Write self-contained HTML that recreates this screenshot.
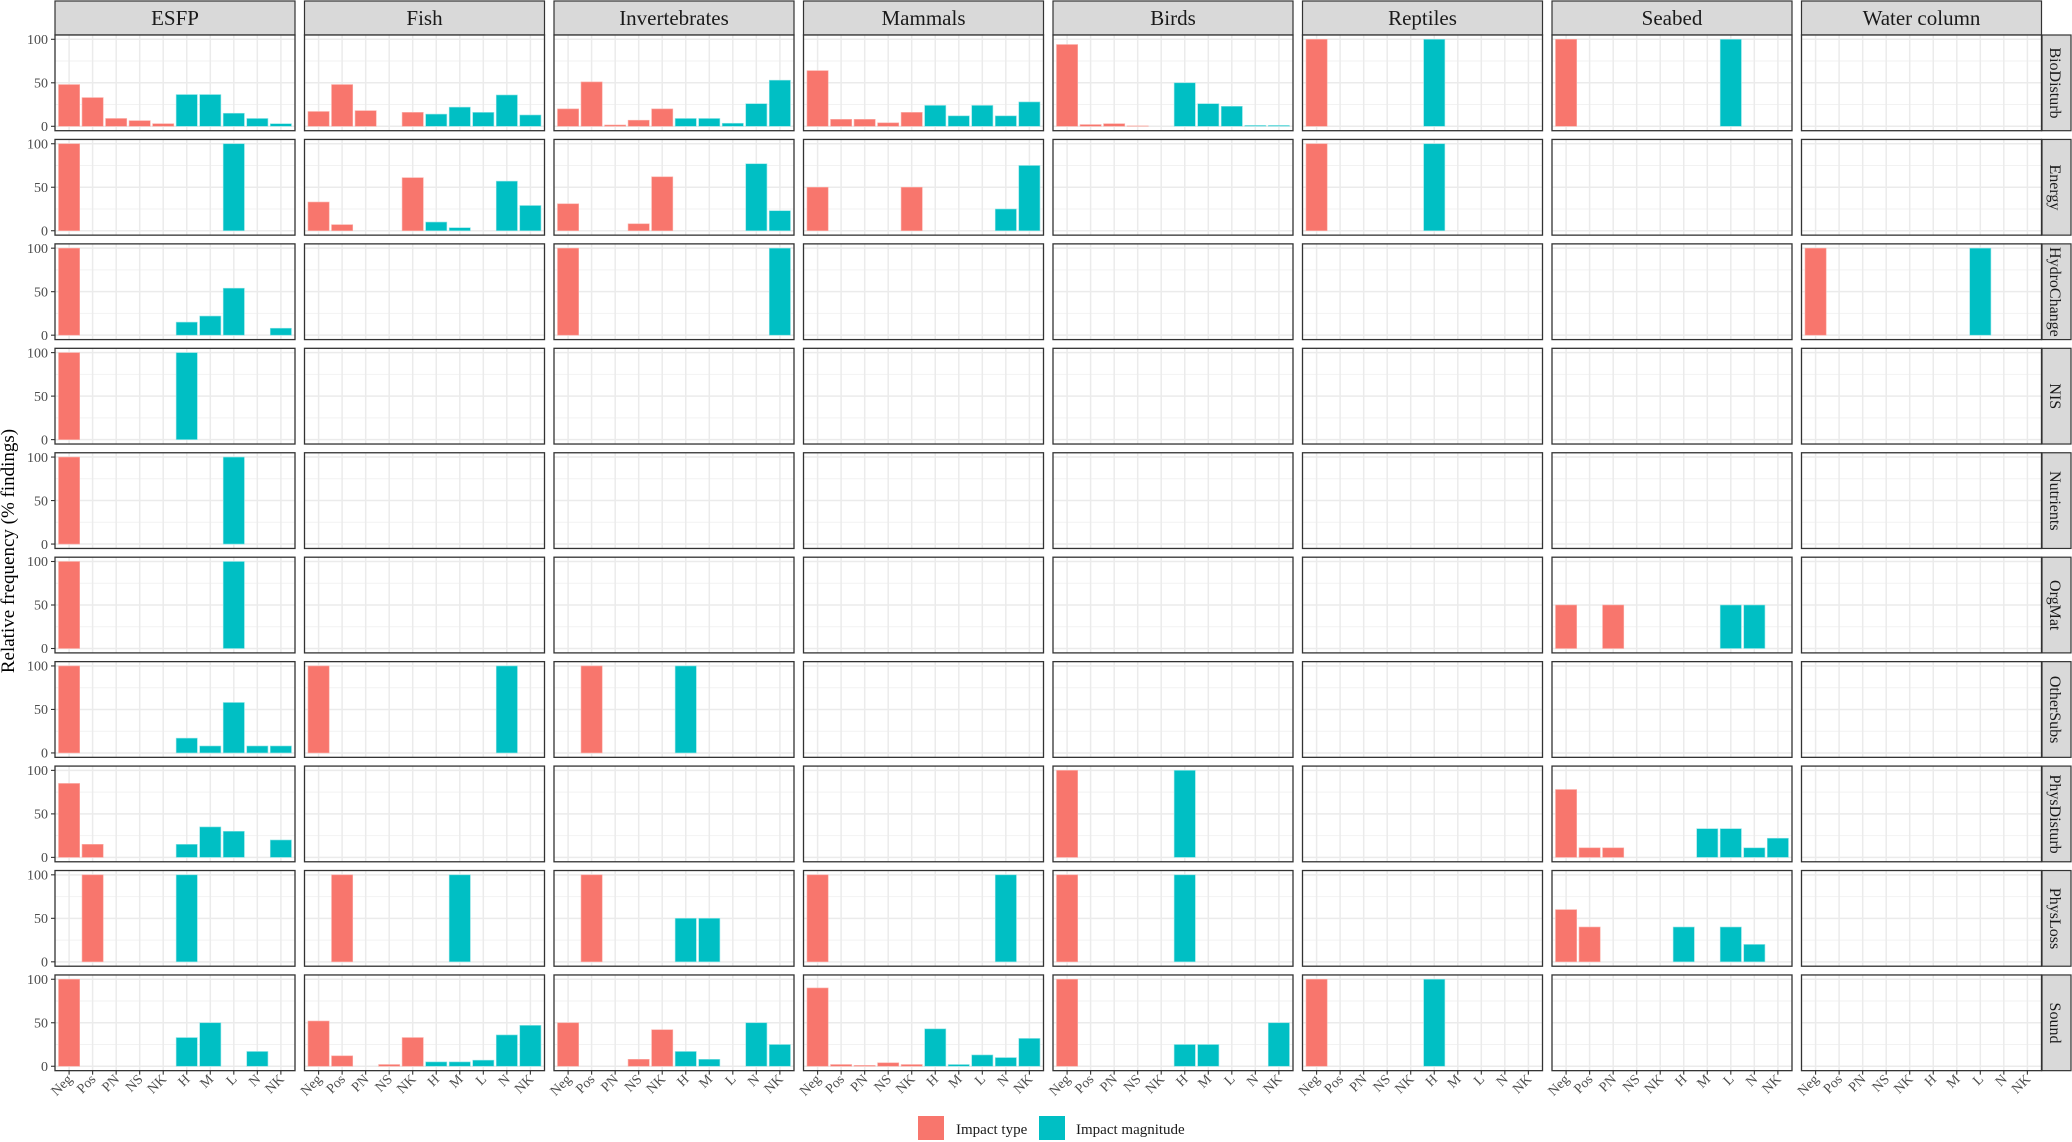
<!DOCTYPE html>
<html><head><meta charset="utf-8"><style>
html,body{margin:0;padding:0;background:#fff;}
svg{display:block;font-family:"Liberation Serif",serif;}
</style></head><body>
<svg id="s" width="2072" height="1142" xmlns="http://www.w3.org/2000/svg">
<g id="shapes"></g>
<g id="txt" fill="#222">
<text x="14" y="551" font-size="19" text-anchor="middle" transform="rotate(-90 14 551)" fill="#000">Relative frequency (% findings)</text>
<g font-size="21" text-anchor="middle" fill="#1a1a1a">
<text x="175" y="25">ESFP</text>
<text x="424.5" y="25">Fish</text>
<text x="674" y="25">Invertebrates</text>
<text x="923.5" y="25">Mammals</text>
<text x="1173" y="25">Birds</text>
<text x="1422.5" y="25">Reptiles</text>
<text x="1672" y="25">Seabed</text>
<text x="1921.5" y="25">Water column</text>
</g>
<g font-size="16" text-anchor="middle" fill="#1a1a1a">
<text transform="translate(2050 83) rotate(90)">BioDisturb</text>
<text transform="translate(2050 187.4) rotate(90)">Energy</text>
<text transform="translate(2050 291.9) rotate(90)">HydroChange</text>
<text transform="translate(2050 396.3) rotate(90)">NIS</text>
<text transform="translate(2050 500.8) rotate(90)">Nutrients</text>
<text transform="translate(2050 605.2) rotate(90)">OrgMat</text>
<text transform="translate(2050 709.6) rotate(90)">OtherSubs</text>
<text transform="translate(2050 814.1) rotate(90)">PhysDisturb</text>
<text transform="translate(2050 918.5) rotate(90)">PhysLoss</text>
<text transform="translate(2050 1023) rotate(90)">Sound</text>
</g>
<g font-size="14" text-anchor="end" fill="#4d4d4d">
<g transform="translate(0 0)"><text x="48" y="44">100</text><text x="48" y="87.5">50</text><text x="48" y="131">0</text></g>
<g transform="translate(0 104.44)"><text x="48" y="44">100</text><text x="48" y="87.5">50</text><text x="48" y="131">0</text></g>
<g transform="translate(0 208.89)"><text x="48" y="44">100</text><text x="48" y="87.5">50</text><text x="48" y="131">0</text></g>
<g transform="translate(0 313.33)"><text x="48" y="44">100</text><text x="48" y="87.5">50</text><text x="48" y="131">0</text></g>
<g transform="translate(0 417.78)"><text x="48" y="44">100</text><text x="48" y="87.5">50</text><text x="48" y="131">0</text></g>
<g transform="translate(0 522.22)"><text x="48" y="44">100</text><text x="48" y="87.5">50</text><text x="48" y="131">0</text></g>
<g transform="translate(0 626.67)"><text x="48" y="44">100</text><text x="48" y="87.5">50</text><text x="48" y="131">0</text></g>
<g transform="translate(0 731.11)"><text x="48" y="44">100</text><text x="48" y="87.5">50</text><text x="48" y="131">0</text></g>
<g transform="translate(0 835.56)"><text x="48" y="44">100</text><text x="48" y="87.5">50</text><text x="48" y="131">0</text></g>
<g transform="translate(0 940)"><text x="48" y="44">100</text><text x="48" y="87.5">50</text><text x="48" y="131">0</text></g>
</g>
<g id="xl" font-size="14" text-anchor="end" fill="#4d4d4d"></g>
<g font-size="15" fill="#1a1a1a">
<rect x="918" y="1116" width="26" height="24" fill="#F8766D"/>
<text x="956" y="1134">Impact type</text>
<rect x="1039" y="1116" width="26" height="24" fill="#00BFC4"/>
<text x="1076" y="1134">Impact magnitude</text>
</g>
</g>
<g font-size="14" text-anchor="end" fill="#4d4d4d">
<g transform="translate(55 0)"><text transform="translate(18 1080) rotate(-45)">Neg</text><text transform="translate(41.5 1080) rotate(-45)">Pos</text><text transform="translate(65 1080) rotate(-45)">PN</text><text transform="translate(88.6 1080) rotate(-45)">NS</text><text transform="translate(112.1 1080) rotate(-45)">NK</text><text transform="translate(135.7 1080) rotate(-45)">H</text><text transform="translate(159.2 1080) rotate(-45)">M</text><text transform="translate(182.7 1080) rotate(-45)">L</text><text transform="translate(206.3 1080) rotate(-45)">N</text><text transform="translate(229.8 1080) rotate(-45)">NK</text></g>
<g transform="translate(304.5 0)"><text transform="translate(18 1080) rotate(-45)">Neg</text><text transform="translate(41.5 1080) rotate(-45)">Pos</text><text transform="translate(65 1080) rotate(-45)">PN</text><text transform="translate(88.6 1080) rotate(-45)">NS</text><text transform="translate(112.1 1080) rotate(-45)">NK</text><text transform="translate(135.7 1080) rotate(-45)">H</text><text transform="translate(159.2 1080) rotate(-45)">M</text><text transform="translate(182.7 1080) rotate(-45)">L</text><text transform="translate(206.3 1080) rotate(-45)">N</text><text transform="translate(229.8 1080) rotate(-45)">NK</text></g>
<g transform="translate(554 0)"><text transform="translate(18 1080) rotate(-45)">Neg</text><text transform="translate(41.5 1080) rotate(-45)">Pos</text><text transform="translate(65 1080) rotate(-45)">PN</text><text transform="translate(88.6 1080) rotate(-45)">NS</text><text transform="translate(112.1 1080) rotate(-45)">NK</text><text transform="translate(135.7 1080) rotate(-45)">H</text><text transform="translate(159.2 1080) rotate(-45)">M</text><text transform="translate(182.7 1080) rotate(-45)">L</text><text transform="translate(206.3 1080) rotate(-45)">N</text><text transform="translate(229.8 1080) rotate(-45)">NK</text></g>
<g transform="translate(803.5 0)"><text transform="translate(18 1080) rotate(-45)">Neg</text><text transform="translate(41.5 1080) rotate(-45)">Pos</text><text transform="translate(65 1080) rotate(-45)">PN</text><text transform="translate(88.6 1080) rotate(-45)">NS</text><text transform="translate(112.1 1080) rotate(-45)">NK</text><text transform="translate(135.7 1080) rotate(-45)">H</text><text transform="translate(159.2 1080) rotate(-45)">M</text><text transform="translate(182.7 1080) rotate(-45)">L</text><text transform="translate(206.3 1080) rotate(-45)">N</text><text transform="translate(229.8 1080) rotate(-45)">NK</text></g>
<g transform="translate(1053 0)"><text transform="translate(18 1080) rotate(-45)">Neg</text><text transform="translate(41.5 1080) rotate(-45)">Pos</text><text transform="translate(65 1080) rotate(-45)">PN</text><text transform="translate(88.6 1080) rotate(-45)">NS</text><text transform="translate(112.1 1080) rotate(-45)">NK</text><text transform="translate(135.7 1080) rotate(-45)">H</text><text transform="translate(159.2 1080) rotate(-45)">M</text><text transform="translate(182.7 1080) rotate(-45)">L</text><text transform="translate(206.3 1080) rotate(-45)">N</text><text transform="translate(229.8 1080) rotate(-45)">NK</text></g>
<g transform="translate(1302.5 0)"><text transform="translate(18 1080) rotate(-45)">Neg</text><text transform="translate(41.5 1080) rotate(-45)">Pos</text><text transform="translate(65 1080) rotate(-45)">PN</text><text transform="translate(88.6 1080) rotate(-45)">NS</text><text transform="translate(112.1 1080) rotate(-45)">NK</text><text transform="translate(135.7 1080) rotate(-45)">H</text><text transform="translate(159.2 1080) rotate(-45)">M</text><text transform="translate(182.7 1080) rotate(-45)">L</text><text transform="translate(206.3 1080) rotate(-45)">N</text><text transform="translate(229.8 1080) rotate(-45)">NK</text></g>
<g transform="translate(1552 0)"><text transform="translate(18 1080) rotate(-45)">Neg</text><text transform="translate(41.5 1080) rotate(-45)">Pos</text><text transform="translate(65 1080) rotate(-45)">PN</text><text transform="translate(88.6 1080) rotate(-45)">NS</text><text transform="translate(112.1 1080) rotate(-45)">NK</text><text transform="translate(135.7 1080) rotate(-45)">H</text><text transform="translate(159.2 1080) rotate(-45)">M</text><text transform="translate(182.7 1080) rotate(-45)">L</text><text transform="translate(206.3 1080) rotate(-45)">N</text><text transform="translate(229.8 1080) rotate(-45)">NK</text></g>
<g transform="translate(1801.5 0)"><text transform="translate(18 1080) rotate(-45)">Neg</text><text transform="translate(41.5 1080) rotate(-45)">Pos</text><text transform="translate(65 1080) rotate(-45)">PN</text><text transform="translate(88.6 1080) rotate(-45)">NS</text><text transform="translate(112.1 1080) rotate(-45)">NK</text><text transform="translate(135.7 1080) rotate(-45)">H</text><text transform="translate(159.2 1080) rotate(-45)">M</text><text transform="translate(182.7 1080) rotate(-45)">L</text><text transform="translate(206.3 1080) rotate(-45)">N</text><text transform="translate(229.8 1080) rotate(-45)">NK</text></g>
</g>
</svg>
<script>
(function(){
var NS="http://www.w3.org/2000/svg",g=document.getElementById("shapes");
function el(t,a){var e=document.createElementNS(NS,t);for(var k in a)e.setAttribute(k,a[k]);g.appendChild(e);return e;}
var Z=null;
// data[row][col] = array of 10 values
var D=[
[[48,33,9,6.5,3,36.5,36.5,15,9,3],[17,48,18,0,16,14,22,16,36,13],[20,51,1.5,7,20,9,9,3.5,26,53],[64,8,8,4,16,24,12,24,12,28],[94,2,3,0.5,0,50,26,23,1,1],[100,0,0,0,0,100,0,0,0,0],[100,0,0,0,0,0,0,100,0,0],Z],
[[100,0,0,0,0,0,0,100,0,0],[33,7,0,0,61,10,3.5,0,57,29],[31,0,0,8,62,0,0,0,77,23],[50,0,0,0,50,0,0,0,25,75],Z,[100,0,0,0,0,100,0,0,0,0],Z,Z],
[[100,0,0,0,0,15,22,54,0,8],Z,[100,0,0,0,0,0,0,0,0,100],Z,Z,Z,Z,[100,0,0,0,0,0,0,100,0,0]],
[[100,0,0,0,0,100,0,0,0,0],Z,Z,Z,Z,Z,Z,Z],
[[100,0,0,0,0,0,0,100,0,0],Z,Z,Z,Z,Z,Z,Z],
[[100,0,0,0,0,0,0,100,0,0],Z,Z,Z,Z,Z,[50,0,50,0,0,0,0,50,50,0],Z],
[[100,0,0,0,0,17,8,58,8,8],[100,0,0,0,0,0,0,0,100,0],[0,100,0,0,0,100,0,0,0,0],Z,Z,Z,Z,Z],
[[85,15,0,0,0,15,35,30,0,20],Z,Z,Z,[100,0,0,0,0,100,0,0,0,0],Z,[78,11,11,0,0,0,33,33,11,22],Z],
[[0,100,0,0,0,100,0,0,0,0],[0,100,0,0,0,0,100,0,0,0],[0,100,0,0,0,50,50,0,0,0],[100,0,0,0,0,0,0,0,100,0],[100,0,0,0,0,100,0,0,0,0],Z,[60,40,0,0,0,40,0,40,20,0],Z],
[[100,0,0,0,0,33,50,0,17,0],[52,12,0,2,33,5,5,7,36,47],[50,0,0,8,42,17,8,0,50,25],[90,2,1,4,2,43,2,13,10,32],[100,0,0,0,0,25,25,0,0,50],[100,0,0,0,0,100,0,0,0,0],Z,Z]
];
var W=240,H=95.7,U=23.53;
for(var c=0;c<8;c++){
 var L=55+c*249.5;
 el("rect",{x:L,y:1,width:W,height:34,fill:"#d9d9d9",stroke:"#333","stroke-width":1.2});
}
for(var r=0;r<10;r++){
 var T=35+r*104.44;
 el("rect",{x:2042,y:T,width:29,height:H,fill:"#d9d9d9",stroke:"#333","stroke-width":1.2});
 // y ticks
 [100,50,0].forEach(function(v){var y=T+4.3+(100-v)*0.87;el("line",{x1:51,x2:55,y1:y,y2:y,stroke:"#333","stroke-width":1.1});});
 for(var c=0;c<8;c++){
  var L=55+c*249.5;
  el("rect",{x:L,y:T,width:W,height:H,fill:"#fff"});
  [25,75].forEach(function(v){var y=T+4.3+(100-v)*0.87;el("line",{x1:L,x2:L+W,y1:y,y2:y,stroke:"#f2f2f2","stroke-width":1});});
  [0,50,100].forEach(function(v){var y=T+4.3+(100-v)*0.87;el("line",{x1:L,x2:L+W,y1:y,y2:y,stroke:"#ebebeb","stroke-width":1.5});});
  for(var i=0;i<10;i++){var x=L+14.1+i*U;el("line",{x1:x,x2:x,y1:T,y2:T+H,stroke:"#ebebeb","stroke-width":1.5});}
  var d=D[r][c];
  if(d){for(var i=0;i<10;i++){if(d[i]>0){var x=L+14.1+i*U-10.6,y0=T+4.3+87,h=d[i]*0.87;
   el("rect",{x:x,y:y0-h,width:21.2,height:h,fill:i<5?"#F8766D":"#00BFC4",stroke:i<5?"#fbb0aa":"#8fe3e5","stroke-width":0.6});}}}
  el("rect",{x:L,y:T,width:W,height:H,fill:"none",stroke:"#333","stroke-width":1.3});
  if(r==9){for(var i=0;i<10;i++){var x=L+14.1+i*U;el("line",{x1:x,x2:x,y1:T+H,y2:T+H+4,stroke:"#333","stroke-width":1.1});}}
 }
}
})();
</script>
</body></html>
